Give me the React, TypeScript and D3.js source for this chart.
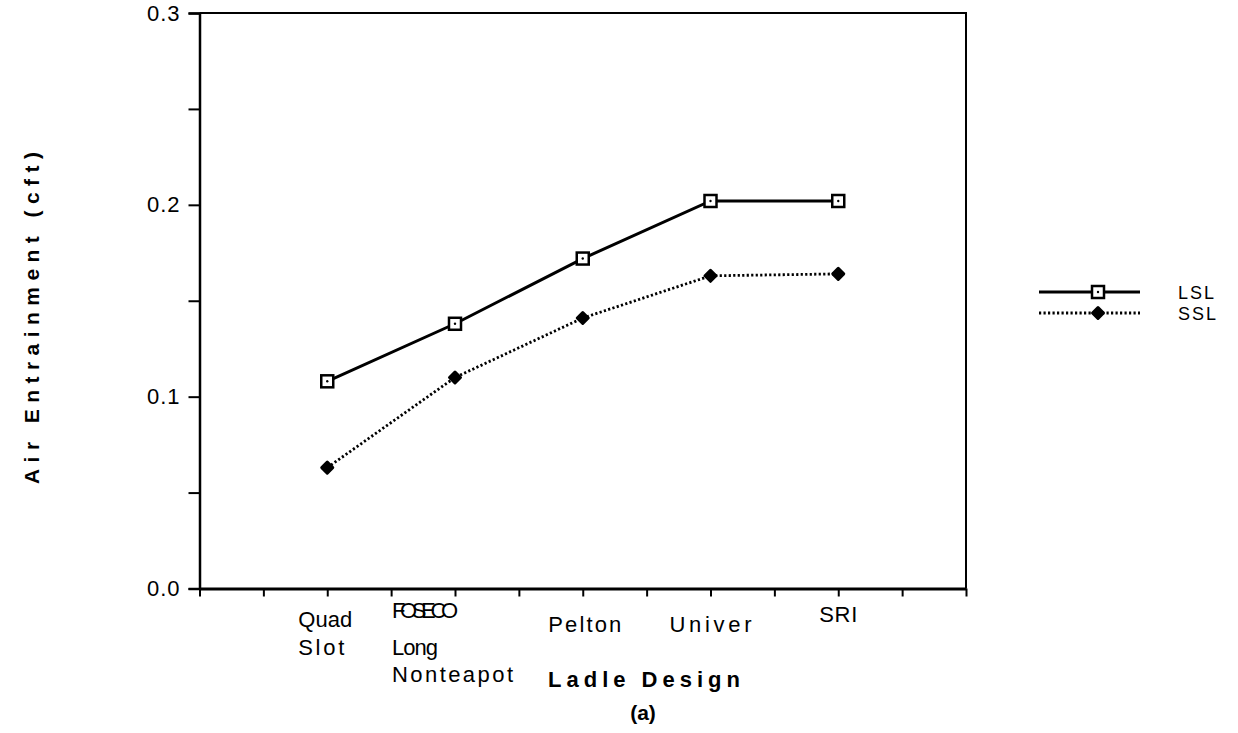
import React, { useEffect, useRef } from "react";
import * as d3 from "d3";

// categories (ladle designs), one label line per entry
const categories: string[][] = [
  ["Quad", "Slot"],
  ["FOSECO", "Long", "Nonteapot"],
  ["Pelton"],
  ["Univer"],
  ["SRI"],
];

// air entrainment (cft)
const lslValues = [0.108, 0.138, 0.172, 0.202, 0.202];
const sslValues = [0.063, 0.11, 0.141, 0.163, 0.164];

const yTickLabels = ["0.0", "0.1", "0.2", "0.3"];

const seriesNames = ["LSL", "SSL"];

const W = 1238;
const H = 733;
const FONT = "'Liberation Sans', Arial, Helvetica, sans-serif";
const NARROW = "'Liberation Sans Narrow', 'Arial Narrow', 'Liberation Sans', sans-serif";

export default function App() {
  const svgRef = useRef<SVGSVGElement>(null);

  useEffect(() => {
    const svg = d3.select(svgRef.current);
    svg.selectAll("*").remove();

    const left = 199.5;
    const right = 966;
    const top = 13;
    const bottom = 588.5;

    const x = d3.scaleLinear().domain([0, categories.length + 1]).range([left, right]);
    const y = d3.scaleLinear().domain([0, 0.3]).range([bottom, top]);

    // frame (top + right)
    svg.append("path")
      .attr("d", `M${left},${top}H${right}V${bottom}`)
      .attr("fill", "none")
      .attr("stroke", "#000")
      .attr("stroke-width", 2);

    // y axis
    const yAxis = d3.axisLeft(y)
      .tickValues(d3.range(0, 0.3001, 0.05))
      .tickSize(11)
      .tickPadding(8)
      .tickFormat((d) => {
        const i = Math.round((d as number) / 0.1);
        return Math.abs((d as number) - i * 0.1) < 1e-6 ? yTickLabels[i] : "";
      });
    const gy = svg.append("g").attr("transform", `translate(${left},0)`).call(yAxis);
    gy.select(".domain").attr("stroke-width", 2.5);
    gy.selectAll(".tick line").attr("stroke-width", 2);
    gy.selectAll(".tick text")
      .attr("font-family", FONT)
      .attr("font-size", 22)
      .attr("letter-spacing", 1)
      .attr("fill", "#000");

    // x axis
    const xAxis = d3.axisBottom(x)
      .tickValues(d3.range(0, categories.length + 1.001, 0.5))
      .tickSize(8)
      .tickSizeOuter(0)
      .tickFormat(() => "");
    const gx = svg.append("g").attr("transform", `translate(0,${bottom})`).call(xAxis);
    gx.select(".domain").attr("stroke-width", 3);
    gx.selectAll(".tick line").attr("stroke-width", 2);

    // category labels
    const labelLayout = [
      { anchor: "start", dx: -29, base: [627, 655], widths: [54, 46] },
      { anchor: "start", dx: -63, base: [618, 655, 682], widths: [66, 46, 121] },
      { anchor: "middle", dx: 2, base: [632], widths: [73] },
      { anchor: "middle", dx: 0, base: [632], widths: [82] },
      { anchor: "middle", dx: 0, base: [622], widths: [38] },
    ];
    categories.forEach((lines, i) => {
      const lay = labelLayout[i];
      lines.forEach((txt, j) => {
        svg.append("text")
          .attr("x", x(i + 1) + lay.dx)
          .attr("y", lay.base[j])
          .attr("text-anchor", lay.anchor)
          .attr("font-family", txt === "FOSECO" ? NARROW : FONT)
          .attr("font-size", 22)
          .attr("textLength", lay.widths[j])
          .attr("lengthAdjust", "spacing")
          .text(txt);
      });
    });

    // axis titles
    svg.append("text")
      .attr("x", 548)
      .attr("y", 687)
      .attr("font-family", FONT)
      .attr("font-weight", "bold")
      .attr("font-size", 22)
      .attr("textLength", 192)
      .attr("lengthAdjust", "spacing")
      .text("Ladle Design");
    svg.append("text")
      .attr("x", 643)
      .attr("y", 720)
      .attr("text-anchor", "middle")
      .attr("font-family", FONT)
      .attr("font-weight", "bold")
      .attr("font-size", 21)
      .text("(a)");
    svg.append("text")
      .attr("transform", `translate(39,${318}) rotate(-90)`)
      .attr("text-anchor", "middle")
      .attr("font-family", FONT)
      .attr("font-weight", "bold")
      .attr("font-size", 21)
      .attr("textLength", 332)
      .attr("lengthAdjust", "spacing")
      .text("Air   Entrainment   (cft)");

    const line = d3.line<number>()
      .x((_, i) => x(i + 1))
      .y((d) => y(d));

    const drawSquare = (g: any, cx: number, cy: number) => {
      g.append("rect")
        .attr("x", cx - 6)
        .attr("y", cy - 6)
        .attr("width", 12)
        .attr("height", 12)
        .attr("fill", "#fff")
        .attr("stroke", "#000")
        .attr("stroke-width", 2.5);
      g.append("circle").attr("cx", cx).attr("cy", cy).attr("r", 1.2).attr("fill", "#000");
    };
    const drawDiamond = (g: any, cx: number, cy: number) => {
      g.append("path")
        .attr("d", "M0,-5.5L5.5,0L0,5.5L-5.5,0Z")
        .attr("transform", `translate(${cx},${cy})`)
        .attr("fill", "#000")
        .attr("stroke", "#000")
        .attr("stroke-width", 3)
        .attr("stroke-linejoin", "round");
    };

    // SSL dotted
    svg.append("path")
      .attr("d", line(sslValues))
      .attr("fill", "none")
      .attr("stroke", "#000")
      .attr("stroke-width", 2.8)
      .attr("stroke-dasharray", "2.2,2.3");
    // LSL solid
    svg.append("path")
      .attr("d", line(lslValues))
      .attr("fill", "none")
      .attr("stroke", "#000")
      .attr("stroke-width", 3);

    const marks = svg.append("g");
    sslValues.forEach((v, i) => drawDiamond(marks, x(i + 1), y(v)));
    lslValues.forEach((v, i) => drawSquare(marks, x(i + 1), y(v)));

    // legend
    const legY = [292, 313];
    seriesNames.forEach((name, i) => {
      const g = svg.append("g");
      g.append("line")
        .attr("x1", 1039)
        .attr("x2", 1140)
        .attr("y1", legY[i])
        .attr("y2", legY[i])
        .attr("stroke", "#000")
        .attr("stroke-width", 2.8)
        .attr("stroke-dasharray", i === 1 ? "2.2,2.3" : null);
      if (i === 0) drawSquare(g, 1098, legY[i]);
      else drawDiamond(g, 1098, legY[i]);
      g.append("text")
        .attr("x", 1178)
        .attr("y", legY[i] + 6.5)
        .attr("font-family", FONT)
        .attr("font-size", 18)
        .attr("letter-spacing", 2)
        .text(name);
    });
  }, []);

  return (
    <svg
      ref={svgRef}
      width={W}
      height={H}
      viewBox={`0 0 ${W} ${H}`}
      style={{ position: "absolute", left: 0, top: 0, background: "#fff" }}
    />
  );
}
